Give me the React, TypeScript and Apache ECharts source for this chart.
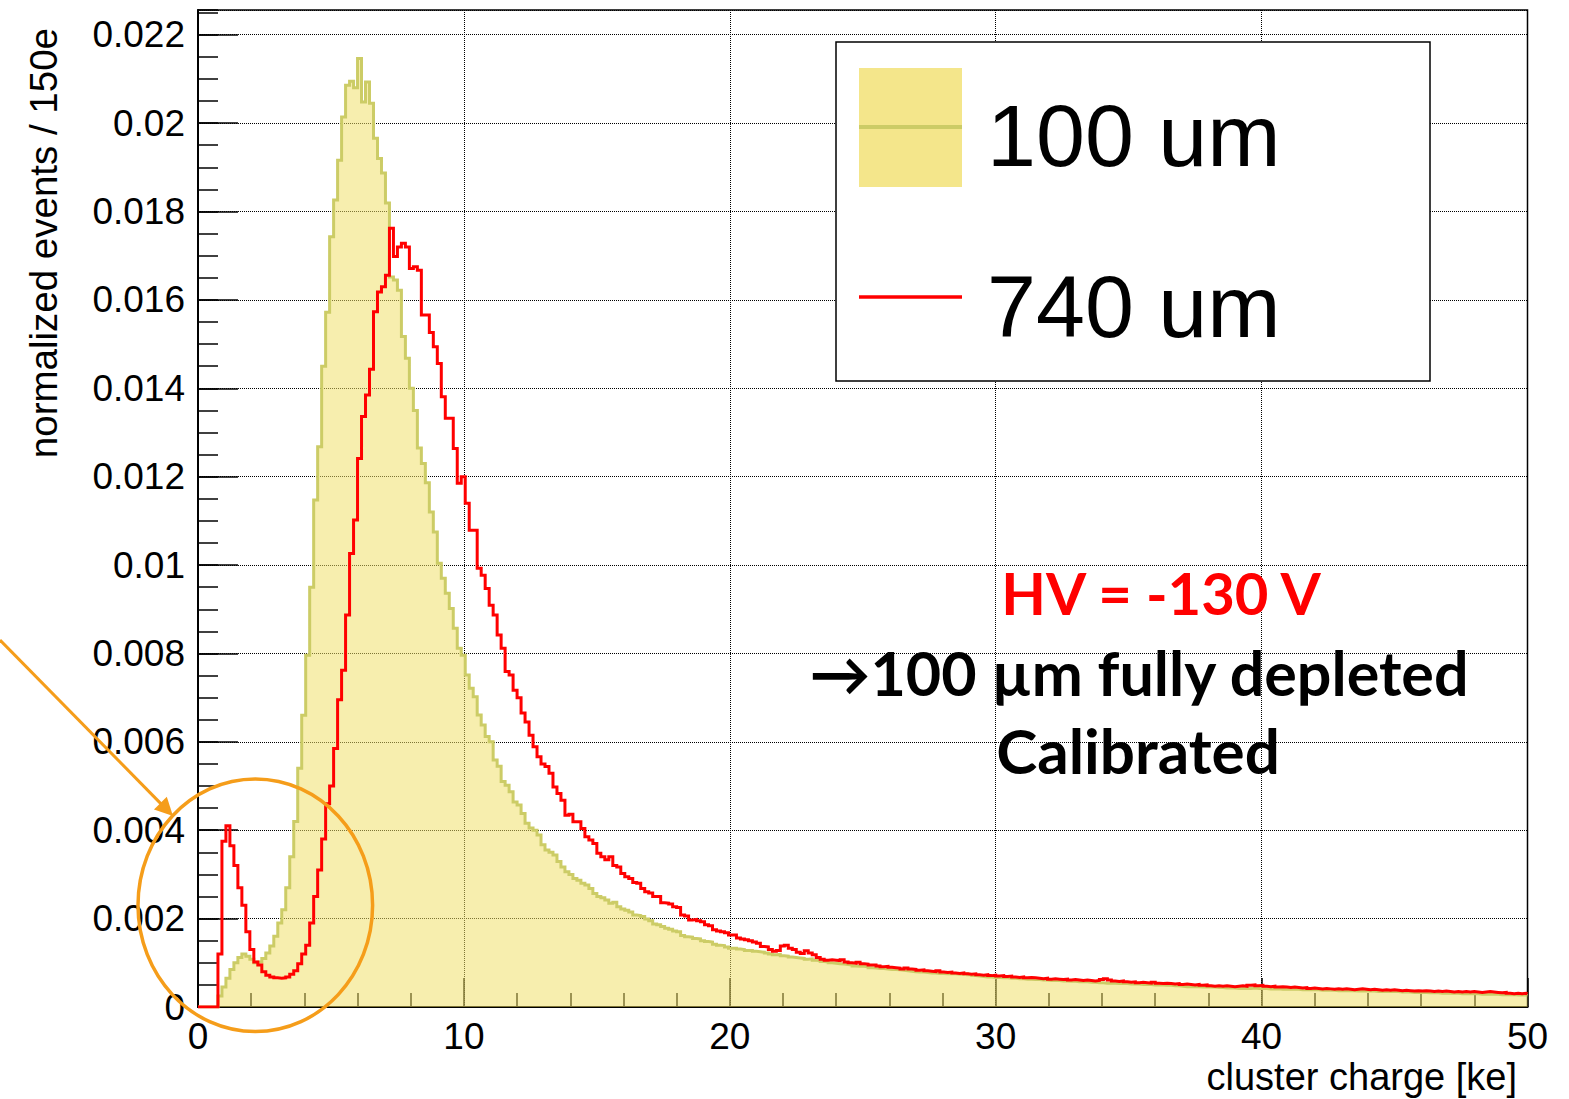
import React, { useEffect, useRef } from "react";
import * as echarts from "echarts";

// Histogram binning (cluster charge, ke)
const BIN_WIDTH_KE = 0.15;
const X_MIN = 0;
const X_MAX = 50;
const X_MAJOR = 10;
const Y_MIN = 0;
const Y_MAX = 0.02256;
const Y_MAJOR = 0.002;
const Y_MINOR = 0.0005;

// normalized events / 150e, in units of 1e-3, one value per bin starting at 0 ke
const values100um = [
  0, 0, 0, 0, 0, 0.25, 0.45, 0.65, 0.85, 1.0,
  1.12, 1.2, 1.15, 1.08, 1.0, 1.02, 1.1, 1.22, 1.38, 1.6,
  1.9, 2.2, 2.7, 3.4, 4.2, 5.4, 6.6, 7.96, 9.5, 11.47,
  12.68, 14.5, 15.72, 17.43, 18.26, 19.16, 20.14, 20.86, 20.95, 20.8,
  21.46, 20.48, 20.93, 20.45, 19.66, 19.2, 18.87, 18.19, 16.52, 16.45,
  16.22, 15.17, 14.68, 14.0, 13.5, 12.65, 12.3, 11.86, 11.2, 10.75,
  10.04, 9.7, 9.36, 9.02, 8.57, 8.12, 7.96, 7.51, 7.21, 7.02,
  6.61, 6.38, 6.12, 6.0, 5.59, 5.45, 5.1, 5.02, 4.87, 4.64,
  4.57, 4.38, 4.16, 4.05, 4.0, 3.89, 3.67, 3.55, 3.5, 3.44,
  3.29, 3.17, 3.06, 3.0, 2.91, 2.87, 2.8, 2.76, 2.68, 2.57,
  2.5, 2.47, 2.42, 2.35, 2.37, 2.27, 2.22, 2.19, 2.15, 2.08,
  2.07, 2.05, 1.99, 1.95, 1.88, 1.86, 1.82, 1.78, 1.76, 1.72,
  1.7, 1.62, 1.59, 1.58, 1.55, 1.54, 1.5, 1.48, 1.47, 1.42,
  1.4, 1.39, 1.36, 1.33, 1.33, 1.31, 1.3, 1.28, 1.28, 1.26,
  1.25, 1.24, 1.22, 1.2, 1.18, 1.19, 1.16, 1.15, 1.13, 1.12,
  1.11, 1.1, 1.08, 1.09, 1.06, 1.05, 1.03, 1.02, 1.0, 0.99,
  0.98, 0.97, 0.96, 0.95, 0.93, 0.92, 0.92, 0.91, 0.89, 0.88,
  0.87, 0.87, 0.86, 0.85, 0.85, 0.84, 0.83, 0.82, 0.81, 0.8,
  0.79, 0.79, 0.78, 0.77, 0.77, 0.76, 0.76, 0.75, 0.75, 0.75,
  0.74, 0.74, 0.75, 0.73, 0.71, 0.7, 0.69, 0.68, 0.68, 0.67,
  0.67, 0.66, 0.66, 0.65, 0.65, 0.64, 0.64, 0.63, 0.63, 0.62,
  0.62, 0.61, 0.61, 0.6, 0.6, 0.6, 0.59, 0.59, 0.58, 0.58,
  0.57, 0.57, 0.57, 0.56, 0.56, 0.55, 0.55, 0.54, 0.54, 0.54,
  0.53, 0.53, 0.53, 0.52, 0.52, 0.52, 0.51, 0.51, 0.51, 0.5,
  0.5, 0.5, 0.49, 0.49, 0.48, 0.48, 0.47, 0.46, 0.46, 0.46,
  0.46, 0.45, 0.45, 0.45, 0.45, 0.44, 0.44, 0.43, 0.43, 0.43,
  0.42, 0.42, 0.42, 0.42, 0.43, 0.42, 0.42, 0.42, 0.41, 0.41,
  0.41, 0.4, 0.4, 0.4, 0.4, 0.4, 0.39, 0.39, 0.39, 0.39,
  0.39, 0.38, 0.38, 0.38, 0.38, 0.37, 0.37, 0.37, 0.37, 0.37,
  0.36, 0.36, 0.36, 0.36, 0.36, 0.35, 0.35, 0.35, 0.35, 0.35,
  0.35, 0.34, 0.34, 0.34, 0.33, 0.33, 0.33, 0.33, 0.32, 0.32,
  0.32, 0.31, 0.31, 0.31, 0.31, 0.31, 0.3, 0.3, 0.3, 0.3,
  0.3, 0.29, 0.29, 0.29, 0.29, 0.29, 0.28, 0.28, 0.28, 0.28,
  0.27, 0.27, 0.27, 0.26,
];

const values740um = [
  0, 0, 0, 0, 0, 1.2, 3.75, 4.1, 3.65, 3.2,
  2.7, 2.3, 1.7, 1.3, 1.02, 0.95, 0.8, 0.72, 0.68, 0.66,
  0.65, 0.66, 0.68, 0.74, 0.82, 0.98, 1.2, 1.4, 1.9, 2.5,
  3.1, 3.8, 4.6, 5.0, 5.85, 6.95, 7.62, 8.87, 10.26, 11.02,
  12.41, 13.36, 13.85, 14.43, 15.73, 16.18, 16.3, 16.56, 17.62, 16.98,
  17.2, 17.28, 17.2, 16.71, 16.75, 16.67, 15.66, 15.66, 15.26, 14.94,
  14.56, 13.81, 13.32, 13.32, 12.64, 11.85, 12.0, 11.4, 10.79, 10.79,
  9.93, 9.77, 9.47, 9.09, 8.87, 8.42, 8.12, 7.59, 7.51, 7.17,
  7.0, 6.65, 6.45, 6.15, 5.89, 5.66, 5.5, 5.44, 5.29, 4.98,
  4.83, 4.68, 4.34, 4.36, 4.19, 4.19, 4.04, 3.85, 3.78, 3.7,
  3.48, 3.4, 3.33, 3.4, 3.2, 3.17, 3.02, 2.95, 2.91, 2.82,
  2.8, 2.68, 2.61, 2.58, 2.5, 2.5, 2.36, 2.35, 2.33, 2.27,
  2.25, 2.08, 2.06, 1.97, 1.98, 1.95, 1.93, 1.86, 1.84, 1.75,
  1.72, 1.7, 1.68, 1.63, 1.63, 1.56, 1.54, 1.52, 1.5, 1.47,
  1.44, 1.37, 1.36, 1.3, 1.26, 1.28, 1.38, 1.4, 1.33, 1.3,
  1.24, 1.21, 1.27, 1.22, 1.18, 1.12, 1.08, 1.06, 1.07, 1.06,
  1.05, 1.07, 1.02, 1.0, 0.99, 1.01, 0.98, 0.97, 0.95, 0.95,
  0.93, 0.91, 0.92, 0.9, 0.89, 0.88, 0.86, 0.88, 0.86, 0.85,
  0.83, 0.84, 0.82, 0.81, 0.8, 0.82, 0.79, 0.78, 0.79, 0.77,
  0.76, 0.77, 0.75, 0.74, 0.75, 0.73, 0.72, 0.73, 0.71, 0.72,
  0.7, 0.71, 0.69, 0.7, 0.68, 0.67, 0.68, 0.66, 0.67, 0.66,
  0.65, 0.64, 0.65, 0.63, 0.64, 0.63, 0.62, 0.63, 0.61, 0.62,
  0.61, 0.6, 0.61, 0.6, 0.59, 0.6, 0.62, 0.64, 0.61, 0.59,
  0.58, 0.59, 0.57, 0.56, 0.57, 0.55, 0.56, 0.55, 0.54, 0.56,
  0.54, 0.53, 0.54, 0.53, 0.52, 0.53, 0.51, 0.52, 0.51, 0.5,
  0.51, 0.49, 0.5, 0.48, 0.47, 0.48, 0.47, 0.48, 0.47, 0.46,
  0.47, 0.48, 0.47, 0.49, 0.5, 0.48, 0.49, 0.47, 0.46, 0.47,
  0.45, 0.46, 0.45, 0.44, 0.45, 0.44, 0.43, 0.44, 0.42, 0.43,
  0.42, 0.41, 0.42, 0.41, 0.4, 0.41, 0.4, 0.41, 0.4, 0.39,
  0.4, 0.41, 0.4, 0.39, 0.4, 0.39, 0.38, 0.39, 0.38, 0.39,
  0.38, 0.37, 0.38, 0.37, 0.36, 0.37, 0.36, 0.37, 0.36, 0.35,
  0.36, 0.35, 0.36, 0.35, 0.34, 0.35, 0.34, 0.35, 0.34, 0.35,
  0.34, 0.33, 0.34, 0.35, 0.34, 0.33, 0.32, 0.33, 0.31, 0.3,
  0.31, 0.3, 0.31, 0.3,
];

const seriesNames = ["100 um", "740 um"];
const xAxisTitle = "cluster charge [ke]";
const yAxisTitle = "normalized events / 150e";
const noteLines = ["HV = -130 V", "\u2192100 \u00b5m fully depleted", "Calibrated"];

const LABEL_FONT = "'Liberation Sans', Arial, Helvetica, sans-serif";
const NOTE_FONT = "Lato, 'Open Sans', sans-serif";
const FILL_100 = "rgba(240,222,100,0.75)";
const LINE_100 = "#CCCC66";
const LINE_740 = "#FF0000";
const ORANGE = "#F59D1A";

function toHistogramSteps(values: number[]) {
  const pts: [number, number][] = values.map((v, i) => [i * BIN_WIDTH_KE, v * 1e-3]);
  pts.push([X_MAX, values[values.length - 1] * 1e-3]);
  return pts;
}

export default function App() {
  const ref = useRef<HTMLDivElement>(null);

  useEffect(() => {
    document.body.style.margin = "0";
    document.body.style.overflow = "hidden";
    if (!ref.current) return;
    const chart = echarts.init(ref.current, undefined, { renderer: "svg" });

    const tip = [173, 816];
    const tail = [0, 640];
    const dx = tip[0] - tail[0];
    const dy = tip[1] - tail[1];
    const len = Math.sqrt(dx * dx + dy * dy);
    const ux = dx / len;
    const uy = dy / len;
    const headLen = 18;
    const headHalf = 9;
    const bx = tip[0] - ux * headLen;
    const by = tip[1] - uy * headLen;

    const gridLine = { show: true, lineStyle: { color: "#000", width: 1, type: [1, 1] } };

    const option: any = {
      animation: false,
      backgroundColor: "#ffffff",
      grid: {
        left: 198,
        right: 41.5,
        top: 10,
        bottom: 92,
        show: true,
        borderColor: "#000",
        borderWidth: 1.5,
        backgroundColor: "transparent",
        containLabel: false,
      },
      xAxis: {
        type: "value",
        min: X_MIN,
        max: X_MAX,
        interval: X_MAJOR,
        axisLine: { show: true, onZero: false, lineStyle: { color: "#000", width: 2 } },
        axisTick: { show: true, inside: true, length: 29, lineStyle: { color: "#000", width: 1.5 } },
        minorTick: { show: true, splitNumber: 5, length: 14, lineStyle: { color: "#000", width: 1.5 } },
        axisLabel: {
          margin: 11,
          fontSize: 37,
          fontFamily: LABEL_FONT,
          color: "#000",
          formatter: (v: number) => String(v),
        },
        splitLine: gridLine,
        minorSplitLine: { show: false },
      },
      yAxis: [
        {
          type: "value",
          min: Y_MIN,
          max: Y_MAX,
          interval: Y_MAJOR,
          axisLine: { show: true, onZero: false, lineStyle: { color: "#000", width: 2 } },
          axisTick: { show: true, inside: true, length: 40, lineStyle: { color: "#000", width: 1.5 } },
          axisLabel: {
            margin: 13,
            fontSize: 37,
            fontFamily: LABEL_FONT,
            color: "#000",
            showMaxLabel: false,
            formatter: (v: number) => String(Math.round(v * 1000) / 1000),
          },
          splitLine: gridLine,
        },
        {
          type: "value",
          min: Y_MIN,
          max: Y_MAX,
          interval: Y_MINOR,
          position: "left",
          axisLine: { show: false },
          axisTick: { show: true, inside: true, length: 20, lineStyle: { color: "#000", width: 1.5 } },
          axisLabel: { show: false },
          splitLine: { show: false },
        },
      ],
      series: [
        {
          name: seriesNames[0],
          type: "line",
          step: "end",
          data: toHistogramSteps(values100um),
          showSymbol: false,
          symbol: "none",
          clip: true,
          lineStyle: { color: LINE_100, width: 3, join: "miter", cap: "butt" },
          areaStyle: { color: FILL_100, origin: "start" },
          z: 2,
        },
        {
          name: seriesNames[1],
          type: "line",
          step: "end",
          data: toHistogramSteps(values740um),
          showSymbol: false,
          symbol: "none",
          clip: true,
          lineStyle: { color: LINE_740, width: 3, join: "miter", cap: "butt" },
          z: 3,
        },
      ],
      graphic: [
        // axis titles
        {
          type: "text",
          x: 1517,
          y: 1077,
          style: {
            text: xAxisTitle,
            fill: "#000",
            fontSize: 38,
            fontFamily: LABEL_FONT,
            align: "right",
            verticalAlign: "middle",
          },
        },
        {
          type: "text",
          x: 43,
          y: 28,
          rotation: Math.PI / 2,
          style: {
            text: yAxisTitle,
            fill: "#000",
            fontSize: 38.5,
            fontFamily: LABEL_FONT,
            align: "right",
            verticalAlign: "middle",
          },
        },
        // legend box
        {
          type: "rect",
          shape: { x: 836, y: 42, width: 594, height: 339 },
          style: { fill: "#fff", stroke: "#000", lineWidth: 1.5 },
          z: 10,
        },
        {
          type: "rect",
          shape: { x: 859, y: 68, width: 103, height: 119 },
          style: { fill: FILL_100, stroke: "none" },
          z: 11,
        },
        {
          type: "line",
          shape: { x1: 859, y1: 127, x2: 962, y2: 127 },
          style: { stroke: LINE_100, lineWidth: 4 },
          z: 12,
        },
        {
          type: "line",
          shape: { x1: 859, y1: 297, x2: 962, y2: 297 },
          style: { stroke: LINE_740, lineWidth: 3.5 },
          z: 12,
        },
        {
          type: "text",
          x: 987,
          y: 135,
          style: {
            text: seriesNames[0],
            fill: "#000",
            fontSize: 88,
            fontFamily: LABEL_FONT,
            align: "left",
            verticalAlign: "middle",
          },
          z: 12,
        },
        {
          type: "text",
          x: 987,
          y: 306,
          style: {
            text: seriesNames[1],
            fill: "#000",
            fontSize: 88,
            fontFamily: LABEL_FONT,
            align: "left",
            verticalAlign: "middle",
          },
          z: 12,
        },
        // annotations
        {
          type: "text",
          x: 1161,
          y: 592,
          style: {
            text: noteLines[0],
            fill: "#FF0000",
            fontSize: 58,
            fontWeight: "bold",
            fontFamily: NOTE_FONT,
            align: "center",
            verticalAlign: "middle",
          },
          z: 12,
        },
        {
          type: "text",
          x: 1139,
          y: 672,
          style: {
            text: noteLines[1],
            fill: "#000",
            fontSize: 61,
            fontWeight: "bold",
            fontFamily: NOTE_FONT,
            align: "center",
            verticalAlign: "middle",
          },
          z: 12,
        },
        {
          type: "text",
          x: 1138,
          y: 750,
          style: {
            text: noteLines[2],
            fill: "#000",
            fontSize: 62,
            fontWeight: "bold",
            fontFamily: NOTE_FONT,
            align: "center",
            verticalAlign: "middle",
          },
          z: 12,
        },
        // orange highlight
        {
          type: "ellipse",
          shape: { cx: 255.3, cy: 905.3, rx: 117.3, ry: 126.3 },
          style: { fill: "none", stroke: ORANGE, lineWidth: 3.5 },
          z: 20,
        },
        {
          type: "line",
          shape: { x1: tail[0], y1: tail[1], x2: bx + ux * 2, y2: by + uy * 2 },
          style: { stroke: ORANGE, lineWidth: 3 },
          z: 20,
        },
        {
          type: "polygon",
          shape: {
            points: [
              [tip[0], tip[1]],
              [bx - uy * headHalf, by + ux * headHalf],
              [bx + uy * headHalf, by - ux * headHalf],
            ],
          },
          style: { fill: ORANGE, stroke: "none" },
          z: 20,
        },
      ],
    };

    chart.setOption(option);
    return () => {
      chart.dispose();
    };
  }, []);

  return <div ref={ref} style={{ width: 1569, height: 1099 }} />;
}
